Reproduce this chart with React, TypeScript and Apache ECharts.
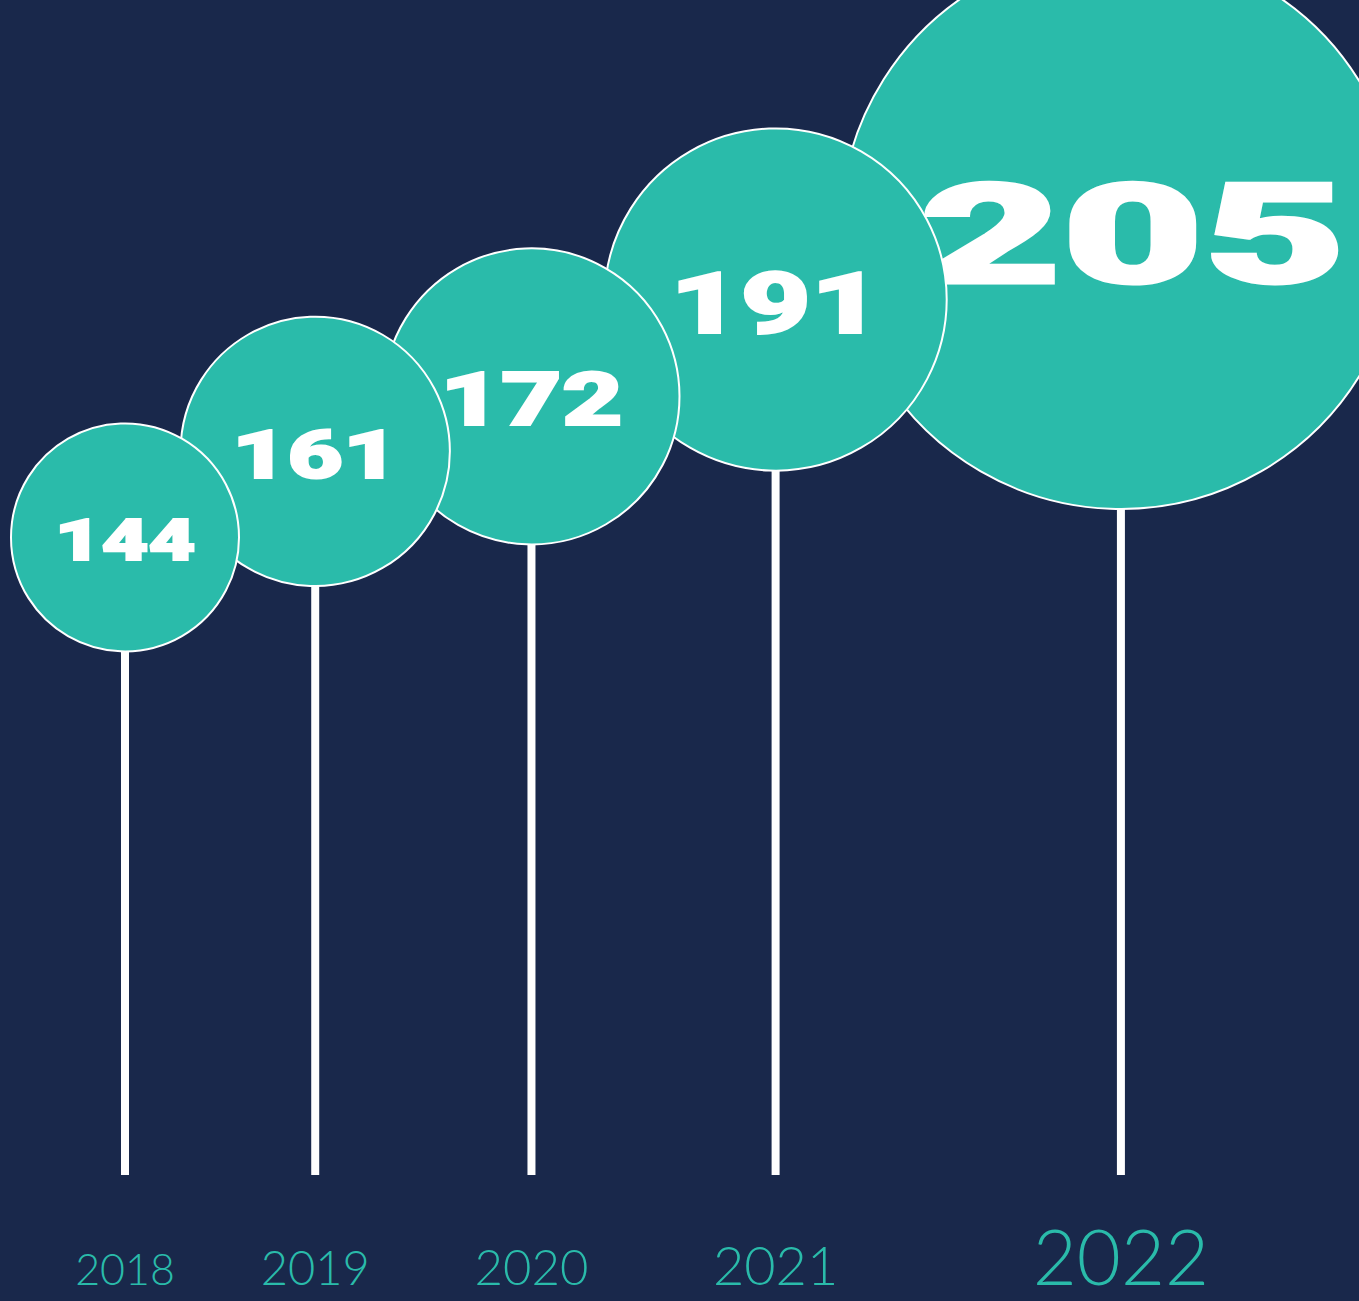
import React, { useEffect, useRef } from "react";
import * as echarts from "echarts";

// ---- data ----
const YEARS = ["2018", "2019", "2020", "2021", "2022"];
const VALUES = [144, 161, 172, 191, 205];
const Y_MIN = 18;
const Y_MAX = 250;

// ---- styles ----
const BG = "#19284B";
const TEAL = "#2ABBAA";
const WHITE = "#FFFFFF";
const WIDTH = 1359;
const HEIGHT = 1301;

export default function App() {
  const ref = useRef<HTMLDivElement>(null);

  useEffect(() => {
    document.body.style.margin = "0";
    const chart = echarts.init(ref.current as HTMLDivElement, null, { renderer: "svg" });
    const last = YEARS.length - 1;

    // bubble size grows with the value; the latest year is emphasised
    const radius = (i: number) => {
      const d = 228 + (VALUES[i] - VALUES[0]) * 2.43;
      return (i === last ? d * 1.49 : d) / 2;
    };
    // packed layout: each bubble overlaps its neighbour by a fixed share
    const PAD = 11;
    const PACK = 0.765;
    const xPos: number[] = [];
    VALUES.forEach((_, i) => {
      xPos.push(i === 0 ? radius(0) + PAD : xPos[i - 1] + PACK * (radius(i - 1) + radius(i)));
    });

    const yearSize = (i: number) => (i === last ? 76 : 43 + (VALUES[i] - VALUES[0]) * 0.23);
    const rich: Record<string, any> = {};
    YEARS.forEach((_, i) => {
      const fs = Math.round(yearSize(i));
      rich["y" + i] = {
        fontSize: fs,
        lineHeight: Math.round(fs * 0.774),
        fontFamily: "Lato",
        fontWeight: 300,
        color: TEAL,
      };
    });
    const nearest = (x: number) => {
      let best = 0;
      xPos.forEach((p, i) => {
        if (Math.abs(p - x) < Math.abs(xPos[best] - x)) best = i;
      });
      return best;
    };

    const renderItem = (params: any, api: any) => {
      const idx = api.value(2) as number;
      const v = api.value(1) as number;
      const [cx, cy] = api.coord([api.value(0), v]);
      const base = api.coord([api.value(0), Y_MIN])[1];
      const r = radius(idx);
      const fs = r * 0.5;
      return {
        type: "group",
        children: [
          {
            type: "rect",
            shape: { x: cx - 4, y: cy + r - 2, width: 8, height: base - cy - r + 2 },
            style: { fill: WHITE },
          },
          {
            type: "circle",
            shape: { cx, cy, r },
            style: { fill: TEAL, stroke: WHITE, lineWidth: 2 },
          },
          {
            type: "text",
            x: cx + (idx === last ? 12 : 0),
            y: cy + fs * 0.05,
            scaleX: idx === last ? 1.75 : 1.42,
            style: {
              text: String(v),
              fill: WHITE,
              stroke: WHITE,
              lineWidth: idx === last ? 3 : 2,
              fontSize: fs,
              fontFamily: "Roboto",
              fontWeight: 900,
              align: "center",
              verticalAlign: "middle",
            },
          },
        ],
      };
    };

    chart.setOption({
      animation: false,
      backgroundColor: BG,
      grid: { left: 0, right: 0, top: 1, bottom: 126 },
      xAxis: {
        type: "value",
        min: 0,
        max: WIDTH,
        axisLine: { show: false },
        axisTick: { show: false },
        splitLine: { show: false },
        axisLabel: {
          customValues: xPos,
          margin: 110,
          verticalAlign: "bottom",
          formatter: (val: number) => {
            const i = nearest(val);
            return `{y${i}|${YEARS[i]}}`;
          },
          rich,
        },
      },
      yAxis: { type: "value", min: Y_MIN, max: Y_MAX, show: false },
      series: [
        {
          type: "custom",
          renderItem,
          clip: false,
          encode: { x: 0, y: 1 },
          data: VALUES.map((v, i) => [xPos[i], v, i]).reverse(),
        },
      ],
    });

    return () => chart.dispose();
  }, []);

  return <div ref={ref} style={{ width: WIDTH, height: HEIGHT, background: BG }} />;
}
